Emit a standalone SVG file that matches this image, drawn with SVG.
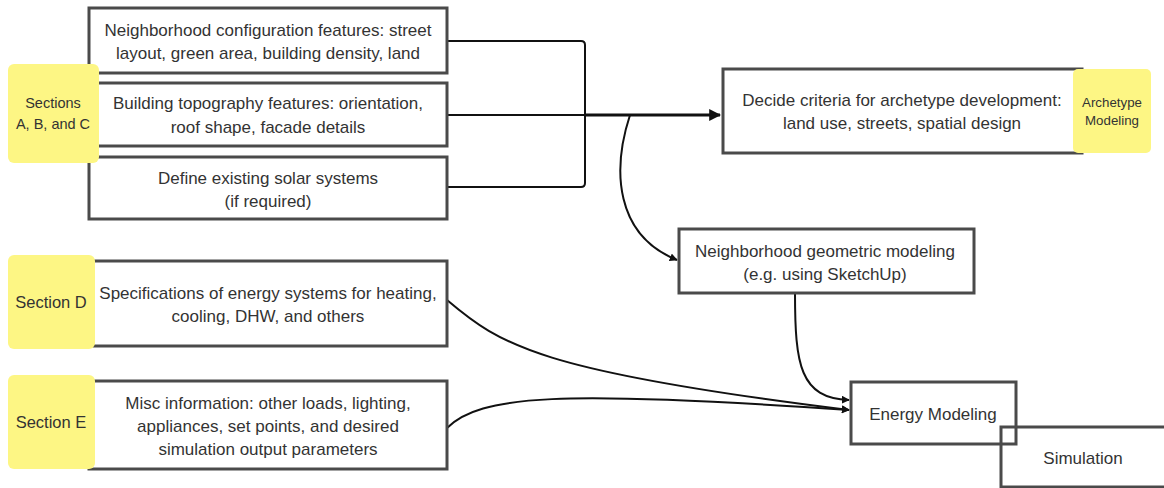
<svg xmlns="http://www.w3.org/2000/svg" width="1164" height="488" viewBox="0 0 1164 488">
<style>
.box{fill:#fff;stroke:#4a4a4a;stroke-width:3}
.boxn{fill:none;stroke:#4a4a4a;stroke-width:3}
.sticky{fill:#fdf684;stroke:none}
.t{font-family:"Liberation Sans",Arial,sans-serif;font-size:17px;fill:#333;text-anchor:middle}
.ts{font-family:"Liberation Sans",Arial,sans-serif;font-size:14.5px;fill:#333;text-anchor:middle}
.td{font-family:"Liberation Sans",Arial,sans-serif;font-size:16.5px;fill:#333;text-anchor:middle}
.tx{font-family:"Liberation Sans",Arial,sans-serif;font-size:13.3px;fill:#333;text-anchor:middle}
.c{fill:none;stroke:#111;stroke-width:2}
</style>
<defs>
<marker id="ah" viewBox="0 0 10 10" refX="9" refY="5" markerWidth="4" markerHeight="4" orient="auto" markerUnits="strokeWidth">
<path d="M0,0 L10,5 L0,10 z" fill="#111"/>
</marker>
</defs>
<rect width="1164" height="488" fill="#fff"/>
<g id="connectors">
<path class="c" d="M447,41 H581 Q585,41 585,45 V115"/>
<path class="c" d="M447,187 H581 Q585,187 585,183 V115"/>
<path class="c" d="M447,115 H585"/>
<path class="c" style="stroke-width:3" d="M585,115 H720" marker-end="url(#ah)"/>
<path class="c" d="M630,115 C612,170 615,235 677,260" marker-end="url(#ah)"/>
<path class="c" d="M795,293 C795,365 800,398 849,400" marker-end="url(#ah)"/>
<path class="c" d="M447,300 C500,345 540,372 849,410" marker-end="url(#ah)"/>
<path class="c" d="M447,428 C480,395 560,390 849,410" marker-end="url(#ah)"/>
</g>
<g id="n1"><rect class="box" x="89" y="8" width="358" height="65"/>
<text class="t" x="268" y="36">Neighborhood configuration features: street</text>
<text class="t" x="268" y="59">layout, green area, building density, land</text></g>
<g id="n2"><rect class="box" x="89" y="83" width="358" height="63"/>
<text class="t" x="268" y="109">Building topography features: orientation,</text>
<text class="t" x="268" y="133">roof shape, facade details</text></g>
<g id="n3"><rect class="box" x="89" y="157" width="358" height="62"/>
<text class="t" x="268" y="184">Define existing solar systems</text>
<text class="t" x="268" y="207">(if required)</text></g>
<g id="s1"><rect class="sticky" x="8" y="64" width="91" height="99" rx="6"/>
<text class="ts" x="53" y="108">Sections</text>
<text class="ts" x="53" y="129">A, B, and C</text></g>
<g id="n4"><rect class="box" x="89" y="261" width="358" height="85"/>
<text class="t" x="268" y="299">Specifications of energy systems for heating,</text>
<text class="t" x="268" y="322">cooling, DHW, and others</text></g>
<g id="s2"><rect class="sticky" x="8" y="255" width="87" height="94" rx="6"/>
<text class="td" x="51" y="308">Section D</text></g>
<g id="n5"><rect class="box" x="89" y="381" width="358" height="88"/>
<text class="t" x="268" y="409">Misc information: other loads, lighting,</text>
<text class="t" x="268" y="432">appliances, set points, and desired</text>
<text class="t" x="268" y="455">simulation output parameters</text></g>
<g id="s3"><rect class="sticky" x="8" y="375" width="87" height="94" rx="6"/>
<text class="td" x="51" y="428">Section E</text></g>
<g id="n6"><rect class="box" x="723" y="69" width="359" height="84"/>
<text class="t" x="902" y="106">Decide criteria for archetype development:</text>
<text class="t" x="902" y="129">land use, streets, spatial design</text></g>
<g id="s4"><rect class="sticky" x="1073" y="69" width="78" height="84" rx="5"/>
<text class="tx" x="1112" y="107">Archetype</text>
<text class="tx" x="1112" y="125">Modeling</text></g>
<g id="n7"><rect class="box" x="679" y="229" width="295" height="64"/>
<text class="t" x="825" y="257">Neighborhood geometric modeling</text>
<text class="t" x="825" y="280">(e.g. using SketchUp)</text></g>
<g id="n8"><rect class="box" x="851" y="382" width="165" height="62"/>
<text class="t" x="933" y="420">Energy Modeling</text></g>
<g id="n9"><rect class="boxn" x="1001" y="427" width="170" height="60"/>
<text class="t" x="1083" y="464">Simulation</text></g>
</svg>
